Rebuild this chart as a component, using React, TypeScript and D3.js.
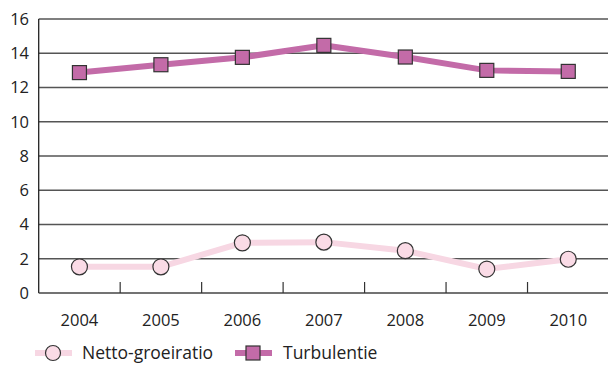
import React from "react";
import * as d3 from "d3";

const years = ["2004", "2005", "2006", "2007", "2008", "2009", "2010"];
const netto = [1.53, 1.53, 2.93, 2.97, 2.47, 1.4, 1.97];
const turbulentie = [12.87, 13.33, 13.76, 14.46, 13.78, 13.0, 12.94];
const yTicks = [0, 2, 4, 6, 8, 10, 12, 14, 16];
const seriesNames = ["Netto-groeiratio", "Turbulentie"];

const W = 608, H = 365;
const left = 38.7, right = 609, top = 19, bottom = 293;
const font = "'Open Sans', 'DejaVu Sans', sans-serif";

export default function App() {
  const x = d3.scaleBand().domain(years).range([left, right]);
  const y = d3.scaleLinear().domain([0, 16]).range([bottom, top]);
  const cx = (d: string) => (x(d) ?? 0) + x.bandwidth() / 2;
  const line = d3.line<number>().x((_, i) => cx(years[i])).y((v) => y(v));
  const pinkLine = "#f7d7e3";
  const pinkFill = "#fadbe6";
  const purple = "#c36ba8";
  const sq = 14;
  return (
    <svg width={W} height={H} style={{ position: "absolute", left: 0, top: 0 }}>
      {yTicks.slice(1).map((t) => (
        <line key={t} x1={left} x2={W} y1={y(t)} y2={y(t)} stroke="#555" strokeWidth={1.3} />
      ))}
      <line x1={left} x2={left} y1={top} y2={bottom} stroke="#222" strokeWidth={1.3} />
      <line x1={left} x2={W} y1={bottom} y2={bottom} stroke="#444" strokeWidth={1.3} />
      {years.slice(1).map((yr) => (
        <line key={yr} x1={x(yr)} x2={x(yr)} y1={bottom} y2={bottom - 11} stroke="#333" strokeWidth={1.2} />
      ))}
      {yTicks.map((t) => (
        <text key={t} x={29} y={y(t)} dy="0.36em" textAnchor="end" fontFamily={font} fontSize={16.5} fill="#222">{t}</text>
      ))}
      {years.map((yr) => (
        <text key={yr} x={cx(yr)} y={320} dy="0.36em" textAnchor="middle" fontFamily={font} fontSize={16.5} fill="#222">{yr}</text>
      ))}
      <path d={line(netto) ?? ""} fill="none" stroke={pinkLine} strokeWidth={6} />
      {netto.map((v, i) => (
        <circle key={i} cx={cx(years[i])} cy={y(v)} r={8} fill={pinkFill} stroke="#333" strokeWidth={1.2} />
      ))}
      <path d={line(turbulentie) ?? ""} fill="none" stroke={purple} strokeWidth={6} />
      {turbulentie.map((v, i) => (
        <rect key={i} x={cx(years[i]) - sq / 2} y={y(v) - sq / 2} width={sq} height={sq} fill={purple} stroke="#333" strokeWidth={1.2} />
      ))}
      <g>
        <line x1={35} x2={72} y1={353} y2={353} stroke={pinkLine} strokeWidth={6} />
        <circle cx={53} cy={353} r={7.5} fill={pinkFill} stroke="#333" strokeWidth={1.2} />
        <text x={82} y={353} dy="0.36em" fontFamily={font} fontSize={17.5} fill="#222">{seriesNames[0]}</text>
        <line x1={235} x2={272} y1={353} y2={353} stroke={purple} strokeWidth={6} />
        <rect x={253 - sq / 2} y={353 - sq / 2} width={sq} height={sq} fill={purple} stroke="#333" strokeWidth={1.2} />
        <text x={283} y={353} dy="0.36em" fontFamily={font} fontSize={17.5} fill="#222">{seriesNames[1]}</text>
      </g>
    </svg>
  );
}
